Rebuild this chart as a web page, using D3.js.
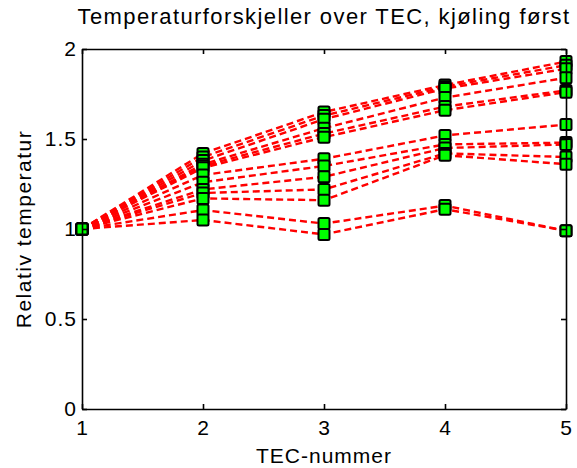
<!DOCTYPE html>
<html><head><meta charset="utf-8">
<script src="https://cdn.jsdelivr.net/npm/d3@7"></script>
<style>body{margin:0;background:#fff}svg{display:block}text{font-family:"Liberation Sans",Arial,sans-serif;fill:#000}</style>
</head><body><div id="chart"></div>
<script>
const tecNumbers = [1, 2, 3, 4, 5];
const xTicks = [1, 2, 3, 4, 5];
const yTicks = [0, 0.5, 1, 1.5, 2];
const yTickLabels = ["0", "0.5", "1", "1.5", "2"];
// one array per measurement series (relative temperature at TEC 1..5)
const s01 = [1, 1.42, 1.65, 1.80, 1.93];
const s02 = [1, 1.40, 1.63, 1.79, 1.91];
const s03 = [1, 1.38, 1.61, 1.78, 1.89];
const s04 = [1, 1.36, 1.56, 1.73, 1.84];
const s05 = [1, 1.35, 1.53, 1.68, 1.77];
const s06 = [1, 1.34, 1.51, 1.66, 1.76];
const s07 = [1, 1.30, 1.39, 1.52, 1.58];
const s08 = [1, 1.26, 1.35, 1.47, 1.48];
const s09 = [1, 1.22, 1.29, 1.45, 1.47];
const s10 = [1, 1.20, 1.22, 1.42, 1.40];
const s11 = [1, 1.17, 1.16, 1.41, 1.36];
const s12 = [1, 1.105, 1.03, 1.13, 0.99];
const s13 = [1, 1.05, 0.97, 1.11, 0.99];
const seriesList = [s01, s02, s03, s04, s05, s06, s07, s08, s09, s10, s11, s12, s13];
const titleText = "Temperaturforskjeller over TEC, kjøling først";
const xLabel = "TEC-nummer";
const yLabel = "Relativ temperatur";

const W = 577, H = 468;
const m = {left: 82, right: 11, top: 49, bottom: 59};
const svg = d3.select("#chart").append("svg").attr("width", W).attr("height", H);
const x = d3.scaleLinear().domain([1, 5]).range([m.left, W - m.right]);
const y = d3.scaleLinear().domain([0, 2]).range([H - m.bottom, m.top]);

const line = d3.line().x((d, i) => x(tecNumbers[i])).y(d => y(d));
const gLines = svg.append("g");
seriesList.forEach(s => {
  gLines.append("path").datum(s).attr("d", line)
    .attr("fill", "none").attr("stroke", "#ff0000").attr("stroke-width", 2.4)
    .attr("stroke-dasharray", "7,4");
});
const ms = 11;
const gMarks = svg.append("g");
seriesList.forEach(s => {
  gMarks.selectAll(null).data(s).enter().append("rect")
    .attr("x", (d, i) => x(tecNumbers[i]) - ms / 2)
    .attr("y", d => y(d) - ms / 2)
    .attr("width", ms).attr("height", ms).attr("rx", 1.5)
    .attr("fill", "#00ff00").attr("stroke", "#000").attr("stroke-width", 2);
});

// axes (box with inward ticks)
const fs = 21;
const axB = svg.append("g").attr("transform", `translate(0,${y(0)})`)
  .call(d3.axisBottom(x).tickValues(xTicks).tickFormat(d3.format("d")).tickSizeInner(-5).tickSizeOuter(0).tickPadding(11));
const axT = svg.append("g").attr("transform", `translate(0,${y(2)})`)
  .call(d3.axisTop(x).tickValues(xTicks).tickFormat("").tickSizeInner(-5).tickSizeOuter(0));
const axL = svg.append("g").attr("transform", `translate(${x(1)},0)`)
  .call(d3.axisLeft(y).tickValues(yTicks).tickFormat((d, i) => yTickLabels[i]).tickSizeInner(-5).tickSizeOuter(0).tickPadding(5));
const axR = svg.append("g").attr("transform", `translate(${x(5)},0)`)
  .call(d3.axisRight(y).tickValues(yTicks).tickFormat("").tickSizeInner(-5).tickSizeOuter(0));
[axB, axT, axL, axR].forEach(a => {
  a.select(".domain").attr("stroke", "#000").attr("stroke-width", 1.6);
  a.selectAll(".tick line").attr("stroke", "#000").attr("stroke-width", 1.6);
  a.selectAll("text").attr("font-size", fs).attr("font-family", "Liberation Sans, Arial, sans-serif")
    .attr("letter-spacing", 1).attr("fill", "#000");
});
axB.selectAll(".tick text").attr("dy", "0.71em");

svg.append("text").attr("x", (x(1) + x(5)) / 2).attr("y", 24).attr("text-anchor", "middle")
  .attr("font-size", 22).attr("letter-spacing", 1.4).text(titleText);
svg.append("text").attr("x", (x(1) + x(5)) / 2).attr("y", 463).attr("text-anchor", "middle")
  .attr("font-size", 21).attr("letter-spacing", 1).text(xLabel);
svg.append("text").attr("transform", `translate(31,${y(1)}) rotate(-90)`).attr("text-anchor", "middle")
  .attr("font-size", 21).attr("letter-spacing", 1.5).text(yLabel);
</script></body></html>
